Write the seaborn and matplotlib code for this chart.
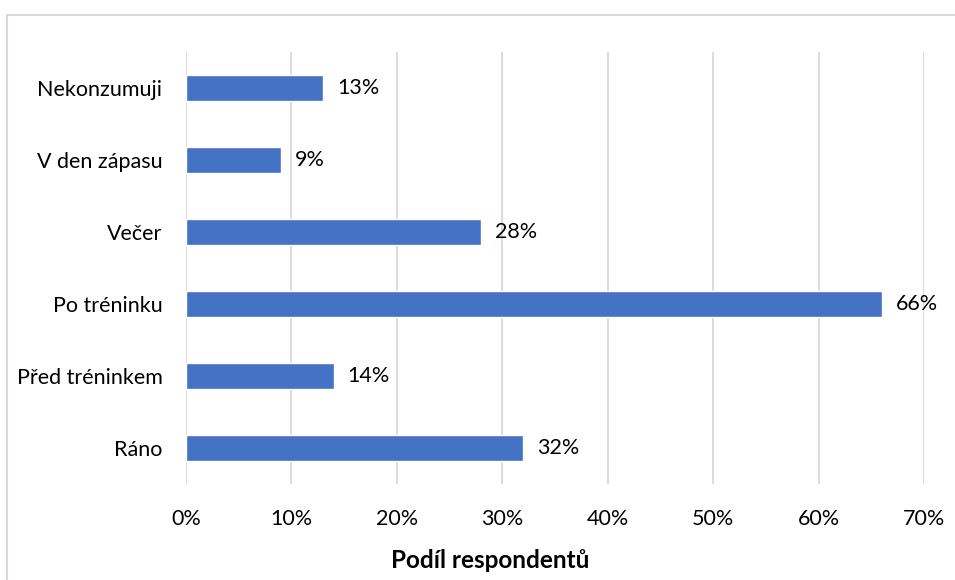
import matplotlib
matplotlib.use("Agg")
import matplotlib.pyplot as plt
from matplotlib.patches import Rectangle
from matplotlib.ticker import FuncFormatter
import seaborn as sns
import pandas as pd

# Survey: when respondents consume the product (share of respondents, %)
categories = ["Nekonzumuji", "V den zápasu", "Večer", "Po tréninku", "Před tréninkem", "Ráno"]
shares = [13, 9, 28, 66, 14, 32]
x_ticks = [0, 10, 20, 30, 40, 50, 60, 70]

df = pd.DataFrame({"kategorie": categories, "podil": shares})

sns.set_theme(style="white")
plt.rcParams["font.family"] = ["Lato", "DejaVu Sans"]

fig = plt.figure(figsize=(9.55, 5.8), dpi=100)
ax = fig.add_axes([186 / 955, 1 - 484 / 580, 738 / 955, 432 / 580])

sns.barplot(data=df, x="podil", y="kategorie", order=categories,
            color="#4472C4", width=0.35, saturation=1, ax=ax, zorder=3)

ax.set_xlim(0, 70)
ax.set_xticks(x_ticks)
ax.xaxis.set_major_formatter(FuncFormatter(lambda v, _: f"{v:.0f}%"))
ax.grid(axis="x", color="#D9D9D9", linewidth=1.3, zorder=0)
ax.grid(axis="y", visible=False)
for side in ["top", "right", "bottom", "left"]:
    ax.spines[side].set_visible(False)
ax.tick_params(axis="both", length=0, labelsize=15.5, colors="#000000")
ax.tick_params(axis="y", pad=17)
ax.tick_params(axis="x", pad=18)
ax.set_xlabel("")
ax.set_ylabel("")

for bar, val in zip(ax.patches, shares):
    ax.annotate(f"{val}%", xy=(bar.get_width(), bar.get_y() + bar.get_height() / 2),
                xytext=(10, 0), textcoords="offset points",
                ha="left", va="center", fontsize=15.5, color="#000000")

fig.text(490 / 955, 1 - 560 / 580, "Podíl respondentů", ha="center", va="center",
         fontsize=17.5, fontweight="bold", color="#000000")

fig.patches.append(Rectangle((6.5 / 955, -0.1), 1.2, 1.1 - 15 / 580,
                             transform=fig.transFigure, fill=False,
                             edgecolor="#D9D9D9", linewidth=1.5))

fig.savefig("out.png", dpi=100, facecolor="white")
